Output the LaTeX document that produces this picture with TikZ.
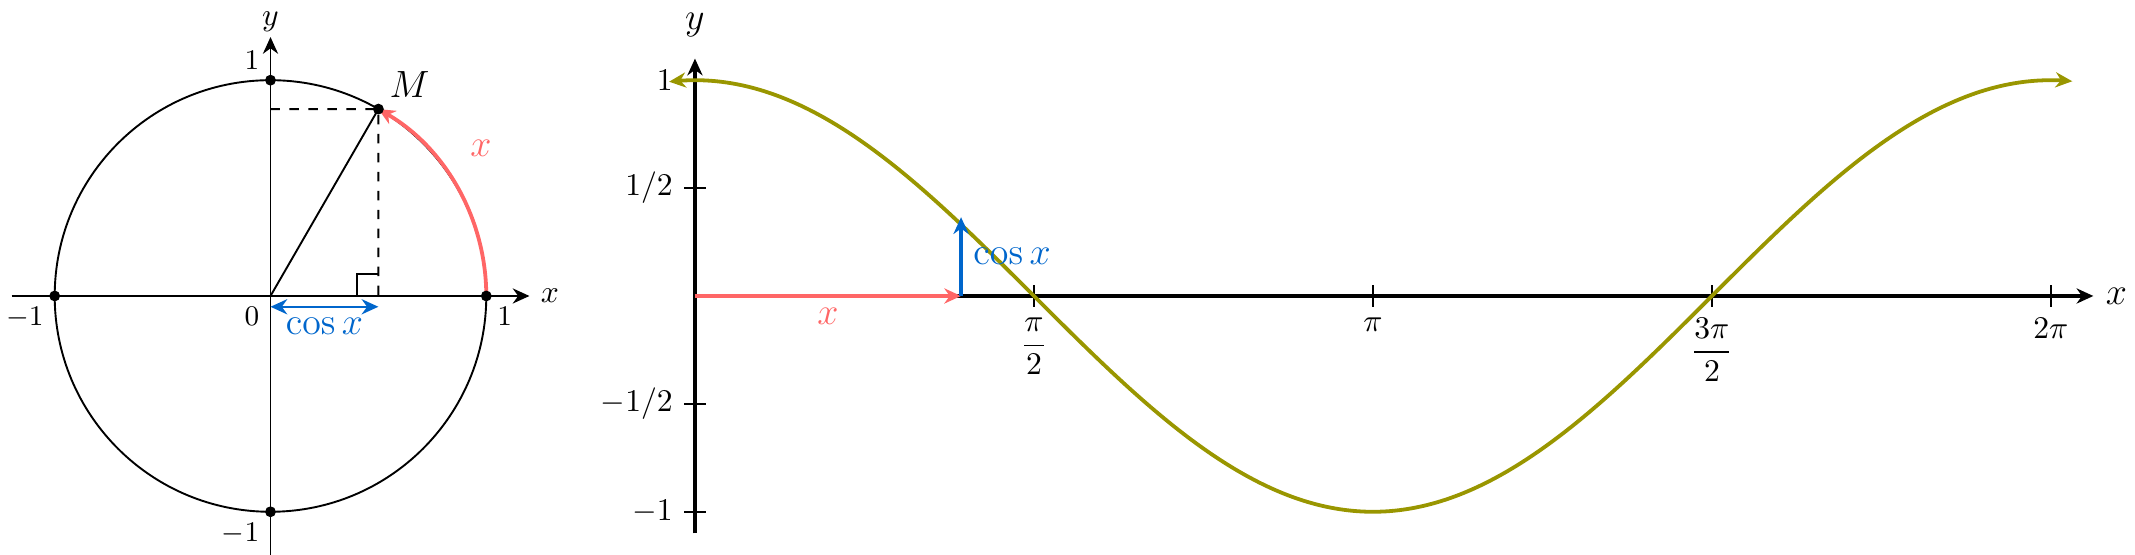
\documentclass[tikz,border=0pt]{standalone}
\usepackage{amsmath}
\usetikzlibrary{arrows.meta}
\definecolor{arcred}{RGB}{255,102,102}
\definecolor{cosblue}{RGB}{0,102,204}
\definecolor{curveolive}{RGB}{153,150,0}
\begin{document}
\begin{tikzpicture}[x=2.4cm,y=2.4cm,>={Stealth[length=5.3pt,width=4.8pt]},
                dot/.style={draw,fill=black,circle,inner sep=0pt,minimum size=3pt},
                ticklab/.style={font=\small},
                biglab/.style={font=\large}]
                \useasboundingbox (-1.2535,-1.2002) rectangle (8.640,1.3716);
                % unit circle
                \coordinate (O) at (0,0);
                \draw[semithick] (O) circle (1);
                \draw[semithick,->] (-1.2,0) -- (1.2,0) node[right] {$x$};
                \draw[semithick,->] (0,-1.2) -- (0,1.2) node[above,inner sep=1.5pt] {$y$};
                \coordinate (H) at (0.5,0);
                \coordinate (K) at (0,0.866);
                \draw[semithick] (O) -- (60:1);
                \draw[semithick,dashed] (K) -- (60:1) -- (H);
                \draw[semithick] (0.4,0) -- (0.4,0.1) -- (0.5,0.1);
                \draw[very thick,arcred,->] (1,0) arc (0:60:1);
                \node[arcred,biglab] (lx) at (35:1.19) {$x$};
                \node[dot] (A) at (1,0) {};
                \node[dot] (B) at (0,1) {};
                \node[dot] (C) at (-1,0) {};
                \node[dot] (D) at (0,-1) {};
                \node[dot] (M) at (60:1) {};
                \node[biglab,above right] at (M) {$M$};
                \node[ticklab,below left] at (O) {$0$};
                \node[ticklab,below right] at (A) {$1$};
                \node[ticklab,above left] at (B) {$1$};
                \node[ticklab,below left] at (C) {$-1$};
                \node[ticklab,below left] at (D) {$-1$};
                \coordinate (P) at (0,-0.05);
                \coordinate (Q) at (0.5,-0.05);
                \draw[thick,cosblue,<->] (P) -- (Q) node[midway,below,biglab] {$\cos x$};
                % graph of cos
                \begin{scope}[shift={(1.967,0)}]
                \draw[very thick,->] (0,0) -- (6.48,0) node[right,biglab] {$x$};
                \draw[very thick,->] (0,-1.1) -- (0,1.1) node[above=3pt,biglab] {$y$};
                \foreach \y/\lab in {1/{1},0.5/{1/2},-0.5/{-1/2},-1/{-1}}
                    \draw[semithick] (-0.05,\y) -- (0.05,\y) node[pos=0,left] {$\lab$};
                \foreach \t/\lab in {1.5708/{\dfrac{\pi}{2}},3.1416/{\pi},4.7124/{\dfrac{3\pi}{2}},6.2832/{2\pi}}
                    \draw[semithick] (\t,0.05) -- (\t,-0.05) node[below] {$\lab$};
                \draw[very thick,curveolive,<->,domain=-0.12:6.383,samples=120,smooth] plot (\x,{cos(\x r)});
                \coordinate (R) at (0,0);
                \coordinate (S) at (1.233,0);
                \coordinate (T) at (1.233,0.365);
                \draw[very thick,arcred,->] (R) -- (S) node[midway,below,biglab] {$x$};
                \draw[very thick,cosblue,->] (S) -- (T) node[midway,right,biglab] {$\cos x$};
                \end{scope}
            \end{tikzpicture}
\end{document}
